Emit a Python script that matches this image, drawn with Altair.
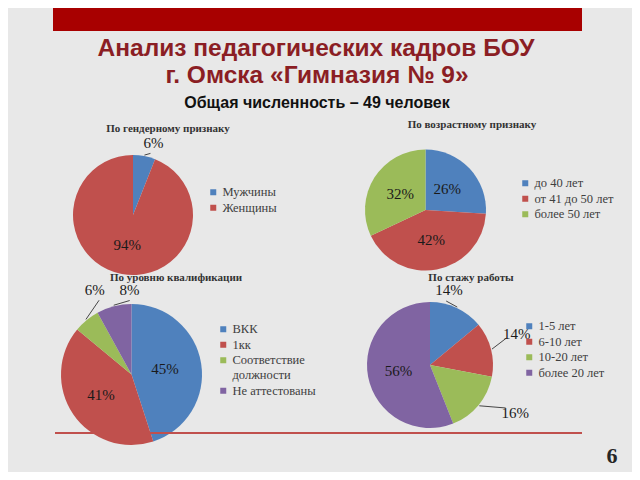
import altair as alt
import pandas as pd

# ---- data ----
gender_cats = ["Мужчины", "Женщины"]
gender_vals = [6, 94]
age_cats = ["до 40 лет", "от 41 до 50 лет", "более 50 лет"]
age_vals = [26, 42, 32]
qual_cats = ["ВКК", "1кк", "Соответствие должности", "Не аттестованы"]
qual_vals = [45, 41, 6, 8]
exp_cats = ["1-5 лет", "6-10 лет", "10-20 лет", "более 20 лет"]
exp_vals = [14, 14, 16, 56]

BLUE, RED, GREEN, PURPLE = "#4F81BD", "#C0504D", "#9BBB59", "#8064A2"
OFF = 8  # page margin
SERIF = "Liberation Serif"


def P(v):
    return v - OFF


def one():
    return alt.Data(values=[{}])


def pie(cats, vals, colors, cx, cy, r, labels, legend_xy, title, title_xy, expr=None):
    df = pd.DataFrame({
        "cat": cats, "value": vals, "idx": list(range(len(cats))),
        "lr": [l[0] for l in labels], "shift": [l[1] for l in labels],
        "lead": [l[2] for l in labels],
    })
    base = alt.Chart(df)
    leg = dict(title=None, orient="none", legendX=P(legend_xy[0]), legendY=P(legend_xy[1]) - 6,
               symbolType="square", symbolSize=36, symbolStrokeWidth=0,
               labelFont=SERIF, labelFontSize=12.5, labelColor="#404040",
               rowPadding=2.5, padding=0, labelOffset=3, labelLimit=300)
    if expr:
        leg["labelExpr"] = expr
    arcs = base.mark_arc(radius=r).encode(
        theta=alt.Theta("value:Q", stack=True),
        order=alt.Order("idx:Q"),
        color=alt.Color("cat:N", scale=alt.Scale(domain=cats, range=colors),
                        legend=alt.Legend(**leg)),
        x=alt.value(P(cx)), y=alt.value(P(cy)),
    )
    geo = base.transform_window(
        cum="sum(value)", sort=[alt.SortField("idx")], frame=[None, 0]
    ).transform_joinaggregate(total="sum(value)").transform_calculate(
        mid="(datum.cum - datum.value / 2) / datum.total * 2 * PI",
        ang="datum.mid + datum.shift * PI / 180",
        px=f"{P(cx)} + datum.lr * sin(datum.ang)",
        py=f"{P(cy)} - datum.lr * cos(datum.ang)",
        ex=f"{P(cx)} + {r + 1} * sin(datum.mid)",
        ey=f"{P(cy)} - {r + 1} * cos(datum.mid)",
        qx=f"{P(cx)} + (datum.lr - 11) * sin(datum.ang)",
        qy=f"{P(cy)} - (datum.lr - 11) * cos(datum.ang)",
        pct="datum.value + '%'",
    )
    txt = geo.mark_text(font=SERIF, fontSize=15, color="#1a1a1a",
                        baseline="middle", align="center").encode(
        x=alt.X("px:Q", scale=None, axis=None),
        y=alt.Y("py:Q", scale=None, axis=None),
        text="pct:N",
    )
    lead = geo.transform_filter("datum.lead == 1").mark_rule(color="#333333", strokeWidth=0.9).encode(
        x=alt.X("ex:Q", scale=None, axis=None),
        y=alt.Y("ey:Q", scale=None, axis=None),
        x2="qx:Q", y2="qy:Q",
    )
    ttl = alt.Chart(one()).mark_text(text=title, font=SERIF, fontSize=11,
                                     fontWeight="bold", color="#333333",
                                     baseline="middle", align="center").encode(
        x=alt.value(P(title_xy[0])), y=alt.value(P(title_xy[1])))
    return [arcs, lead, txt, ttl]


layers = []

banner = alt.Chart(one()).mark_rect(color="#A80000").encode(
    x=alt.value(P(53)), x2=alt.value(P(582)), y=alt.value(0), y2=alt.value(P(31)))
layers.append(banner)

p1 = pie(gender_cats, gender_vals, [BLUE, RED], 133, 215, 60,
         [(75, 5, 1), (31, 0, 0)], (207, 192), "По гендерному признаку", (168, 129))
p2 = pie(age_cats, age_vals, [BLUE, RED, GREEN], 425.5, 210, 60.5,
         [(30, 0, 0), (31, 0, 0), (30, 0, 0)], (519, 183), "По возрастному признаку", (472, 125))
p3 = pie(qual_cats, qual_vals, [BLUE, RED, GREEN, PURPLE], 131.5, 374.5, 70.5,
         [(34, 0, 0), (37, 0, 0), (92, 16, 1), (85, 13, 1)], (217, 329),
         "По уровню квалификации", (176, 278),
         expr="datum.label == 'Соответствие должности' ? ['Соответствие', 'должности'] : datum.label")
p4 = pie(exp_cats, exp_vals, [BLUE, RED, GREEN, PURPLE], 430, 365, 63,
         [(77, -11, 1), (92, -5, 1), (98, -10, 1), (32, 0, 0)], (523, 326),
         "По стажу работы", (471, 278))

for p in (p1, p2, p3, p4):
    layers.append(p[0])
for p in (p1, p2, p3, p4):
    layers.extend(p[1:])

line = alt.Chart(one()).mark_rule(color="#C0504D", strokeWidth=2).encode(
    x=alt.value(P(55)), x2=alt.value(P(582)), y=alt.value(P(433)))
layers.append(line)

t1 = alt.Chart(one()).mark_text(text="Анализ педагогических кадров БОУ", font="Liberation Sans",
                                fontSize=24.5, fontWeight="bold", color="#8B1E24",
                                baseline="middle", align="center").encode(
    x=alt.value(P(316)), y=alt.value(P(49)))
t2 = alt.Chart(one()).mark_text(text="г. Омска «Гимназия № 9»", font="Liberation Sans",
                                fontSize=24.5, fontWeight="bold", color="#8B1E24",
                                baseline="middle", align="center").encode(
    x=alt.value(P(317)), y=alt.value(P(76)))
t3 = alt.Chart(one()).mark_text(text="Общая численность – 49 человек", font="Liberation Sans",
                                fontSize=16, fontWeight="bold", color="#111111",
                                baseline="middle", align="center").encode(
    x=alt.value(P(317)), y=alt.value(P(103)))
num = alt.Chart(one()).mark_text(text="6", font="Liberation Sans Narrow",
                                 fontSize=22, fontWeight="bold", color="#262626",
                                 baseline="middle", align="center").encode(
    x=alt.value(P(612)), y=alt.value(P(456)))
layers.extend([t1, t2, t3, num])

chart = alt.layer(*layers).resolve_scale(
    theta="independent", color="independent"
).properties(
    width=624, height=464, padding=0,
    autosize=alt.AutoSizeParams(type="none"),
    background="#E8E8E8",
).configure_view(stroke=None).configure_legend(
    labelFont=SERIF, labelFontSize=12.5, labelColor="#404040"
)

chart.save("out.html", embed_options={"renderer": "svg", "actions": False})
